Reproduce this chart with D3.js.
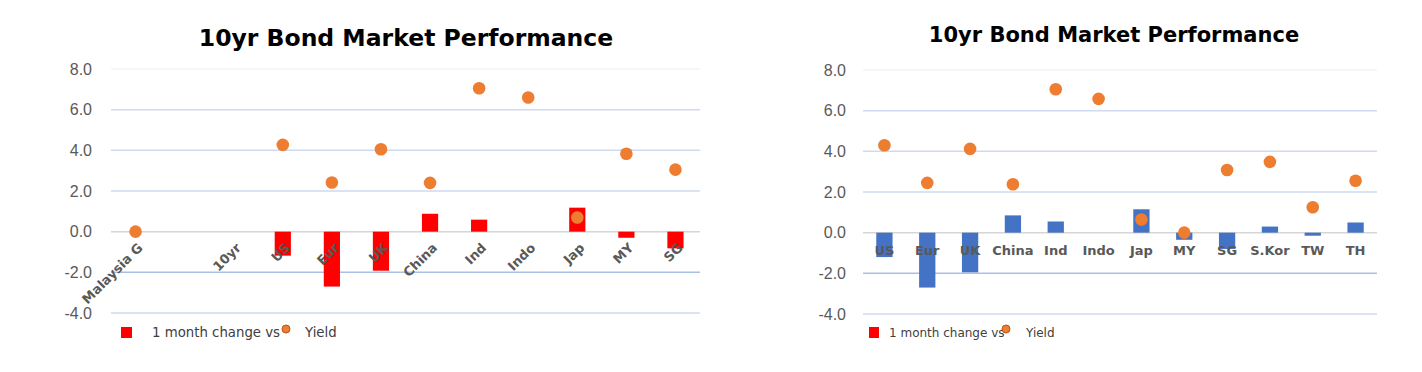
<!DOCTYPE html>
<html>
<head>
<meta charset="utf-8">
<script src="https://cdn.jsdelivr.net/npm/d3@7"></script>
<style>
  body { margin: 0; background: #fff; }
  svg { display: block; }
  .title { font-family: "DejaVu Sans", Verdana, sans-serif; font-weight: bold; fill: #000; }
  .tick text { font-family: "Liberation Sans", Arial, sans-serif; fill: #595959; }
  .cat { font-family: "DejaVu Sans", Verdana, sans-serif; fill: #595959; font-weight: bold; }
  .legend { font-family: "DejaVu Sans", Verdana, sans-serif; fill: #404040; }
</style>
</head>
<body>
<svg id="chart" width="1422" height="372"></svg>
<script>
// Left panel (red bars) and right panel (blue bars) of 10yr bond performance

const leftCats = ['Malaysia G', ' ', '10yr', 'US', 'Eur', 'UK', 'China', 'Ind', 'Indo', 'Jap', 'MY', 'SG'];
const leftChange = [null, null, null, -1.18, -2.7, -1.92, 0.88, 0.59, 0, 1.18, -0.3, -0.82];
const leftYield = [0.0, null, null, 4.27, 2.42, 4.05, 2.4, 7.05, 6.6, 0.7, 3.83, 3.05];

const rightCats = ['US', 'Eur', 'UK', 'China', 'Ind', 'Indo', 'Jap', 'MY', 'SG', 'S.Kor', 'TW', 'TH'];
const rightChange = [-1.2, -2.7, -1.95, 0.85, 0.55, 0, 1.15, -0.35, -0.8, 0.3, -0.15, 0.5];
const rightYield = [4.3, 2.45, 4.12, 2.38, 7.05, 6.58, 0.65, 0.0, 3.08, 3.48, 1.25, 2.55];

const yTicks = [-4, -2, 0, 2, 4, 6, 8];
const titleText = '10yr Bond Market Performance';
const legendBar = '1 month change vs';
const legendDot = 'Yield';

const svg = d3.select('#chart');

function gridColor(v) {
  if (v === 0) return '#d6d6d6';
  if (v === 8) return '#f1f3f8';
  if (v === -2) return '#a9bfe3';
  return '#cfdaef';
}

function drawPanel(cfg) {
  const g = svg.append('g');

  const x = d3.scaleBand().domain(cfg.cats).range([cfg.x0, cfg.x1]).paddingInner(cfg.pad).paddingOuter(cfg.pad / 2);
  const xc = d3.scalePoint().domain(cfg.cats).range([cfg.x0, cfg.x1]).padding(0.5);
  const y = d3.scaleLinear().domain([-4, 8]).range([cfg.yb, cfg.yt]);

  // gridlines
  g.selectAll('line.grid').data(yTicks).enter().append('line')
    .attr('class', 'grid')
    .attr('x1', cfg.x0).attr('x2', cfg.x1)
    .attr('y1', d => y(d)).attr('y2', d => y(d))
    .attr('stroke', d => gridColor(d))
    .attr('stroke-width', 1.5);

  // y axis labels
  const yAxis = d3.axisLeft(y).tickValues(yTicks).tickFormat(d3.format('.1f')).tickSize(0).tickPadding(cfg.tickPad);
  const ya = g.append('g').attr('transform', `translate(${cfg.x0},0)`).call(yAxis);
  ya.select('.domain').remove();
  ya.selectAll('text').style('font-size', '16px').text(d => d3.format('.1f')(d).replace('−', '-'));

  // bars
  const barData = cfg.cats.map((c, i) => ({ c, v: cfg.change[i] })).filter(d => d.v !== null);
  g.selectAll('rect.bar').data(barData).enter().append('rect')
    .attr('class', 'bar')
    .attr('x', d => x(d.c))
    .attr('width', x.bandwidth())
    .attr('y', d => y(Math.max(0, d.v)))
    .attr('height', d => Math.abs(y(d.v) - y(0)))
    .attr('fill', cfg.barColor);

  // category labels
  if (cfg.rotate) {
    g.selectAll('text.cat').data(cfg.cats).enter().append('text')
      .attr('class', 'cat')
      .attr('font-size', '13px')
      .attr('text-anchor', 'end')
      .attr('transform', d => `translate(${xc(d) + 8},${y(0) + 17}) rotate(-45)`)
      .text(d => d.trim());
  } else {
    g.selectAll('text.cat').data(cfg.cats).enter().append('text')
      .attr('class', 'cat')
      .attr('font-size', '13px')
      .attr('text-anchor', 'middle')
      .attr('x', d => xc(d))
      .attr('y', y(0) + 22)
      .text(d => d);
  }

  // yield dots
  const dotData = cfg.cats.map((c, i) => ({ c, v: cfg.yld[i] })).filter(d => d.v !== null);
  g.selectAll('circle.dot').data(dotData).enter().append('circle')
    .attr('class', 'dot')
    .attr('cx', d => xc(d.c))
    .attr('cy', d => y(d.v))
    .attr('r', 6.3)
    .attr('fill', '#ED7D31');

  // title
  g.append('text').attr('class', 'title')
    .attr('x', cfg.titleX).attr('y', cfg.titleY)
    .attr('text-anchor', 'middle')
    .attr('font-size', cfg.titleSize)
    .text(titleText);

  // legend
  const L = cfg.legend;
  g.append('rect').attr('x', L.sx).attr('y', L.y - 6).attr('width', L.sw).attr('height', 11).attr('fill', '#ff0000');
  g.append('text').attr('class', 'legend').attr('font-size', L.fs).attr('x', L.tx).attr('y', L.y + 4).text(legendBar);
  g.append('circle').attr('cx', L.dx).attr('cy', L.y - 4).attr('r', 4)
    .attr('fill', '#ED7D31').attr('stroke', '#b5561a').attr('stroke-width', 1);
  g.append('text').attr('class', 'legend').attr('font-size', L.fs).attr('x', L.yx).attr('y', L.y + 4).text(legendDot);
}

drawPanel({
  cats: leftCats, change: leftChange, yld: leftYield,
  x0: 111, x1: 700, yt: 69, yb: 313, pad: 0.67, tickPad: 19,
  barColor: '#ff0000', rotate: true,
  titleX: 406, titleY: 46, titleSize: '23.5px',
  legend: { sx: 121, sw: 11, tx: 152, dx: 286, yx: 305, y: 333, fs: '13.3px' }
});

drawPanel({
  cats: rightCats, change: rightChange, yld: rightYield,
  x0: 863, x1: 1377, yt: 70, yb: 314, pad: 0.62, tickPad: 17,
  barColor: '#4472C4', rotate: false,
  titleX: 1114, titleY: 42, titleSize: '21px',
  legend: { sx: 869, sw: 10, tx: 889, dx: 1006, yx: 1026, y: 333, fs: '12px' }
});
</script>
</body>
</html>
